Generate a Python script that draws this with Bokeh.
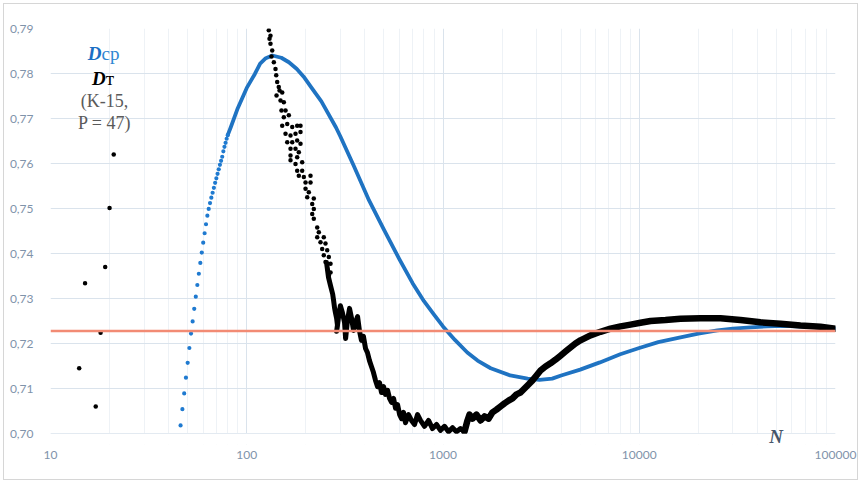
from bokeh.plotting import figure
from bokeh.models import FixedTicker, CustomJSTickFormatter, Span, Label, BoxAnnotation
from bokeh.embed import file_html
from bokeh.resources import INLINE

# ---------------- data ----------------
x_ticks = [10, 100, 1000, 10000, 100000]
x_minor = [20, 30, 40, 50, 60, 70, 80, 90,
           200, 300, 400, 500, 600, 700, 800, 900,
           2000, 3000, 4000, 5000, 6000, 7000, 8000, 9000,
           20000, 30000, 40000, 50000, 60000, 70000, 80000, 90000]
y_ticks = [0.70, 0.71, 0.72, 0.73, 0.74, 0.75, 0.76, 0.77, 0.78, 0.79]
y_min, y_max = 0.70, 0.79

ref_value = 0.7228  # red horizontal line

# blue D_cp: separate dots at integer N (steep part)
blue_dot_N = list(range(46, 81))
blue_dot_D = [0.7018, 0.7054, 0.7089, 0.7124, 0.7157, 0.7190, 0.7222, 0.7249, 0.7277,
              0.7304, 0.7330, 0.7355, 0.7379, 0.7402, 0.7424, 0.7445, 0.7465, 0.7484,
              0.7499, 0.7512, 0.7524, 0.7535, 0.7546, 0.7557, 0.7567, 0.7577, 0.7587,
              0.7597, 0.7606, 0.7615, 0.7627, 0.7637, 0.7646, 0.7655, 0.7663]

# blue D_cp: continuous part
blue_N = [80, 83, 90, 100, 110, 117, 125, 135, 150, 164, 180, 195, 215, 240, 285, 300,
          350, 420, 500, 600, 700, 800, 900, 1000, 1150, 1330, 1500, 1750, 2200, 2700,
          3100, 3600, 4000, 5000, 6300, 8000, 10000, 12500, 16000, 20000, 25000, 30000,
          37000, 45000, 54000, 75000, 100000]
blue_D = [0.7663, 0.7681, 0.7723, 0.7768, 0.7799, 0.7822, 0.7834, 0.7840, 0.7835, 0.7825,
          0.7810, 0.7793, 0.7767, 0.7738, 0.7680, 0.7660, 0.7596, 0.7518, 0.7453, 0.7387,
          0.7334, 0.7294, 0.7264, 0.7238, 0.7208, 0.7180, 0.7162, 0.7145, 0.7129, 0.7122,
          0.7119, 0.7122, 0.7129, 0.7142, 0.7158, 0.7176, 0.7190, 0.7203, 0.7213, 0.7222,
          0.7229, 0.7233, 0.7236, 0.7238, 0.7239, 0.7237, 0.7233]

# black D_t: separate points
black_N = [14, 15, 17, 18, 19, 20, 21,
           129.5, 132.1, 130.6, 132.1, 134.8, 133.7, 137.4, 140.1, 141.3, 142.9,
           145.6, 146.9, 141.8, 151.6, 148.6, 154.5, 150.3, 157.6, 154.5, 163.8,
           151.6, 160.8, 170.5, 180.7, 187.9, 157.6, 167.1, 177.2, 187.9, 160.8,
           170.5, 180.7, 187.9, 167.1, 177.2, 184.2, 167.1, 180.7,
           167.1, 177.2, 191.6, 180.7, 191.6, 184.2, 195.4, 211.3, 199.3, 211.3,
           199.3, 207.1, 203.3, 219.6, 215.6, 219.6, 215.6, 219.6, 228.6, 232.9,
           228.6, 246.9, 237.6, 251.9, 242.3, 257, 246.9, 261.9, 251.9, 267.2,
           257, 267.2, 261.9]
black_D = [0.7145, 0.7334, 0.7060, 0.7224, 0.7370, 0.7501, 0.7620,
           0.7896, 0.7884, 0.7877, 0.7866, 0.7851, 0.7838, 0.7825, 0.7810, 0.7796, 0.7781,
           0.7770, 0.7762, 0.7751, 0.7758, 0.7740, 0.7736, 0.7718, 0.7718, 0.7703, 0.7707,
           0.7684, 0.7688, 0.7681, 0.7684, 0.7684, 0.7666, 0.7662, 0.7666, 0.7670, 0.7647,
           0.7647, 0.7651, 0.7644, 0.7633, 0.7633, 0.7625, 0.7618, 0.7614,
           0.7607, 0.7599, 0.7603, 0.7584, 0.7584, 0.7573, 0.7570, 0.7573, 0.7558, 0.7558,
           0.7544, 0.7536, 0.7525, 0.7522, 0.7510, 0.7499, 0.7488, 0.7477, 0.7458, 0.7447,
           0.7436, 0.7436, 0.7425, 0.7422, 0.7410, 0.7407, 0.7396, 0.7392, 0.7381, 0.7377,
           0.7366, 0.7358, 0.7351]

# black D_t: dense band
dense_N = [255, 261, 267, 274, 277, 280, 283, 287, 290, 287, 293, 300, 307, 315, 319,
           326, 334, 342, 350, 358, 367, 375, 384, 393, 403, 412, 422, 432, 442, 453,
           464, 475, 486, 498, 509, 522, 534, 547, 560, 573, 587, 601, 615, 629, 644,
           667, 691, 716, 742, 768, 805, 844, 884, 927, 971, 1018, 1067, 1118, 1172,
           1228, 1287, 1333, 1365, 1413, 1481, 1553, 1627, 1706, 1787, 1873, 1963,
           2058, 2157, 2260, 2369, 2483, 2602, 2727, 2858, 2995, 3139, 3329, 3530,
           3743, 3968, 4207, 4461, 4730, 5016, 5641, 6344, 7137, 8026, 9028, 10147,
           11412, 13606, 16229, 20511, 25940, 32800, 41480, 52450, 66320, 83860, 100000]
dense_D = [0.7380, 0.7347, 0.7329, 0.7310, 0.7296, 0.7280, 0.7269, 0.7256, 0.7240, 0.7227,
           0.7256, 0.7284, 0.7269, 0.7247, 0.7211, 0.7251, 0.7278, 0.7256, 0.7229, 0.7247,
           0.7260, 0.7229, 0.7207, 0.7216, 0.7189, 0.7180, 0.7162, 0.7149, 0.7136, 0.7118,
           0.7104, 0.7113, 0.7091, 0.7104, 0.7087, 0.7096, 0.7078, 0.7069, 0.7078, 0.7056,
           0.7064, 0.7042, 0.7033, 0.7047, 0.7024, 0.7042, 0.7029, 0.7020, 0.7042, 0.7029,
           0.7016, 0.7029, 0.7011, 0.7020, 0.7007, 0.7016, 0.7004, 0.7013, 0.7004, 0.7011,
           0.7004, 0.7029, 0.7042, 0.7033, 0.7042, 0.7029, 0.7038, 0.7033, 0.7047, 0.7053,
           0.7060, 0.7067, 0.7073, 0.7078, 0.7087, 0.7091, 0.7100, 0.7109, 0.7118, 0.7129,
           0.7140, 0.7149, 0.7156, 0.7164, 0.7173, 0.7182, 0.7191, 0.7200, 0.7207, 0.7218,
           0.7226, 0.7233, 0.7238, 0.7242, 0.7246, 0.7250, 0.7252, 0.7255, 0.7256, 0.7256,
           0.7252, 0.7247, 0.7244, 0.7240, 0.7237, 0.7233]

# ---------------- figure ----------------
# frame: 0.79 at y=28 px, 0.70 at y=433 px; frame extended a little downward so the
# "N" label fits; the strip below 0.70 is masked white.
px_per_unit = 405 / (y_max - y_min)
frame_extra = 11
y_low = y_min - frame_extra / px_per_unit

p = figure(width=861, height=483, x_axis_type="log",
           x_range=(10, 100000), y_range=(y_low, y_max),
           output_backend="svg", toolbar_location=None,
           min_border_left=50, min_border_right=26,
           min_border_top=28, min_border_bottom=483 - 28 - 405 - frame_extra,
           background_fill_color="white", border_fill_color=None)
p.outline_line_color = None
p.stylesheets = [":host { outline: 1px solid #d6d6d6; outline-offset: -4px; background: white; }"]

p.xaxis.ticker = FixedTicker(ticks=x_ticks, minor_ticks=x_minor)
p.yaxis.ticker = FixedTicker(ticks=y_ticks)
p.xaxis.formatter = CustomJSTickFormatter(code="return tick.toFixed(0);")
p.yaxis.formatter = CustomJSTickFormatter(code="return tick.toFixed(2).replace('.', ',');")

for ax in (p.xaxis, p.yaxis):
    ax.axis_line_color = None
    ax.major_tick_line_color = None
    ax.minor_tick_line_color = None
    ax.major_label_text_color = "#7f93aa"
    ax.major_label_text_font = "Lato"
    ax.major_label_text_font_size = "12px"
p.xaxis.major_label_standoff = 0
p.yaxis.major_label_standoff = 11

p.xgrid.grid_line_color = "#dae3ec"
p.xgrid.minor_grid_line_color = "#eef2f6"
p.ygrid.grid_line_color = "#dae3ec"

p.add_layout(Span(location=ref_value, dimension="width",
                  line_color="#f28b74", line_width=2.5))

# blue curve
p.line(blue_N, blue_D, line_color="#1f73c2", line_width=3.8, line_cap="round", line_join="round")
p.scatter(blue_dot_N, blue_dot_D, size=4.2, fill_color="#1f7ad0", line_color=None)

# black data (noisy left part thinner, smooth right part thicker)
split = dense_N.index(1287)
p.line(dense_N[:split + 1], dense_D[:split + 1], line_color="black", line_width=5,
       line_join="round", line_cap="round")
p.line(dense_N[split:], dense_D[split:], line_color="black", line_width=6.5,
       line_join="round", line_cap="round")
p.scatter(black_N, black_D, size=4.5, fill_color="black", line_color=None)

# mask below 0.70
p.add_layout(BoxAnnotation(top=y_min - 0.00005, fill_color="white", fill_alpha=1.0,
                           line_color=None))

serif = "Liberation Serif"
p.add_layout(Label(x=18.2, y=0.78444, text="D", text_align="right", text_baseline="middle",
                   text_font=serif, text_font_style="bold italic", text_font_size="19px",
                   text_color="#1a6fc4"))
p.add_layout(Label(x=18.2, y=0.78444, text="ср", text_align="left", text_baseline="middle",
                   text_font=serif, text_font_size="19px", text_color="#2f86d2"))
p.add_layout(Label(x=19.1, y=0.77889, text="D", text_align="right", text_baseline="middle",
                   text_font=serif, text_font_style="bold italic", text_font_size="19px",
                   text_color="black"))
p.add_layout(Label(x=19.1, y=0.77889, text="т", text_align="left", text_baseline="middle",
                   text_font=serif, text_font_size="19px", text_color="black"))
p.add_layout(Label(x=18.85, y=0.7740, text="(K-15,", text_align="center", text_baseline="middle",
                   text_font=serif, text_font_size="18px", text_color="#5a5a5a"))
p.add_layout(Label(x=18.85, y=0.76911, text="P = 47)", text_align="center", text_baseline="middle",
                   text_font=serif, text_font_size="18px", text_color="#5a5a5a"))
p.add_layout(Label(x=49750, y=0.69933, text="N", text_align="center", text_baseline="middle",
                   text_font=serif, text_font_style="bold italic", text_font_size="19px",
                   text_color="#46566a"))

open("out.html", "w").write(file_html(p, INLINE))
